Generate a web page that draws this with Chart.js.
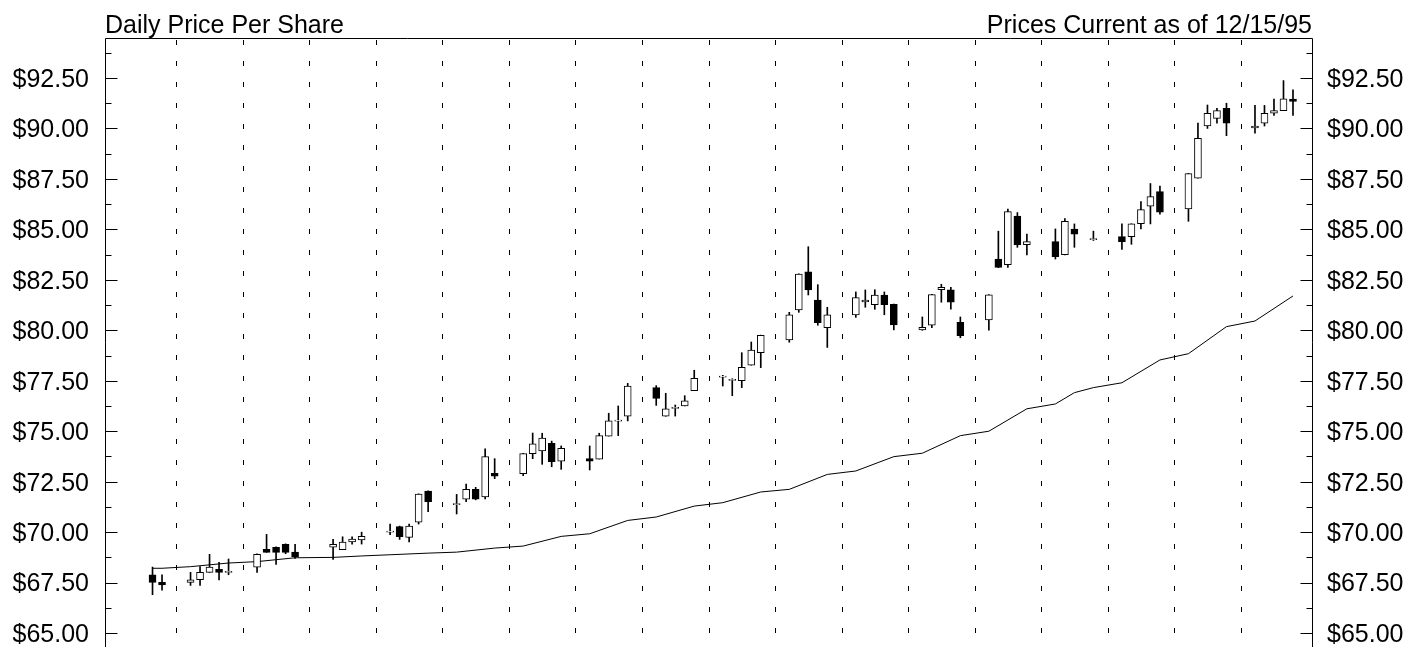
<!DOCTYPE html>
<html lang="en">
<head>
<meta charset="UTF-8">
<title>Daily Price Per Share</title>
<script src="https://cdn.jsdelivr.net/npm/chart.js@4.4.3/dist/chart.umd.min.js"></script>
<style>
  html, body { margin: 0; padding: 0; background: #fff; overflow: hidden; }
  canvas { display: block; }
</style>
</head>
<body>
<canvas id="chart" width="1413" height="647"></canvas>
<script>
// day 0 of the x axis is Saturday 8/12/95, the axis runs to Sunday 12/17/95
const startDate = '1995-08-12';
const lastDay = 127;

const tradeDates = [
  '1995-08-17','1995-08-18',
  '1995-08-21','1995-08-22','1995-08-23','1995-08-24','1995-08-25',
  '1995-08-28','1995-08-29','1995-08-30','1995-08-31','1995-09-01',
  '1995-09-05','1995-09-06','1995-09-07','1995-09-08',
  '1995-09-11','1995-09-12','1995-09-13','1995-09-14','1995-09-15',
  '1995-09-18','1995-09-19','1995-09-20','1995-09-21','1995-09-22',
  '1995-09-25','1995-09-26','1995-09-27','1995-09-28','1995-09-29',
  '1995-10-02','1995-10-03','1995-10-04','1995-10-05','1995-10-06',
  '1995-10-09','1995-10-10','1995-10-11','1995-10-12','1995-10-13',
  '1995-10-16','1995-10-17','1995-10-18','1995-10-19','1995-10-20',
  '1995-10-23','1995-10-24','1995-10-25','1995-10-26','1995-10-27',
  '1995-10-30','1995-10-31','1995-11-01','1995-11-02','1995-11-03',
  '1995-11-06','1995-11-07','1995-11-08','1995-11-09','1995-11-10',
  '1995-11-13','1995-11-14','1995-11-15','1995-11-16','1995-11-17',
  '1995-11-20','1995-11-21','1995-11-22','1995-11-24',
  '1995-11-27','1995-11-28','1995-11-29','1995-11-30','1995-12-01',
  '1995-12-04','1995-12-05','1995-12-06','1995-12-07','1995-12-08',
  '1995-12-11','1995-12-12','1995-12-13','1995-12-14','1995-12-15'
];

const opens = [
  67.89, 67.51,
  67.51, 67.64, 68.01, 68.16, 68.01,
  68.27, 69.15, 69.25, 69.40, 69.01,
  69.25, 69.13, 69.51, 69.62,
  70.00, 70.27, 69.74, 70.50, 72.04,
  71.36, 71.63, 72.12, 71.75, 72.91,
  72.90, 73.89, 74.02, 74.40, 73.52,
  73.64, 73.62, 74.76, 75.50, 75.75,
  77.16, 75.74, 76.13, 76.25, 77.01,
  77.68, 77.52, 77.50, 78.27, 78.89,
  79.52, 81.01, 82.89, 81.50, 80.13,
  80.76, 81.40, 81.27, 81.75, 81.28,
  80.02, 80.25, 82.01, 82.01, 80.40,
  80.51, 83.53, 83.25, 85.66, 84.24,
  84.39, 83.74, 85.02, 84.49,
  84.64, 84.64, 85.28, 86.15, 86.87,
  86.01, 87.53, 90.12, 90.50, 91.00,
  90.02, 90.26, 90.75, 90.88, 91.46
];

const highs = [
  68.27, 67.89,
  68.01, 68.29, 68.90, 68.50, 68.67,
  68.92, 69.89, 69.27, 69.42, 69.40,
  69.64, 69.77, 69.77, 70.00,
  70.40, 70.30, 70.40, 71.90, 72.05,
  71.87, 72.38, 72.22, 74.13, 73.64,
  73.90, 74.91, 74.90, 74.51, 74.27,
  74.27, 74.90, 75.89, 76.25, 77.37,
  77.26, 76.88, 76.30, 76.76, 78.02,
  77.77, 77.60, 78.89, 79.42, 79.76,
  80.89, 82.80, 84.14, 82.26, 81.14,
  81.90, 82.00, 82.01, 81.90, 81.30,
  80.66, 81.78, 82.28, 82.13, 80.66,
  81.77, 84.91, 86.00, 85.83, 84.77,
  85.02, 85.53, 85.27, 84.91,
  85.27, 85.28, 86.38, 87.27, 87.14,
  87.77, 90.26, 91.16, 91.00, 91.25,
  91.14, 91.14, 91.46, 92.37, 91.91
];

const lows = [
  66.90, 67.12,
  67.36, 67.36, 68.01, 67.63, 67.89,
  68.01, 69.00, 68.40, 68.93, 68.70,
  68.65, 69.13, 69.41, 69.41,
  69.87, 69.64, 69.51, 70.40, 71.01,
  70.90, 71.51, 71.60, 71.64, 72.65,
  72.80, 73.64, 73.36, 73.24, 73.11,
  73.08, 73.62, 74.76, 74.78, 75.51,
  76.28, 75.74, 75.75, 76.25, 77.01,
  77.24, 76.76, 77.16, 78.27, 78.15,
  79.41, 80.89, 81.75, 80.25, 79.15,
  80.64, 81.14, 81.04, 80.77, 80.02,
  80.00, 80.13, 81.39, 81.04, 79.63,
  80.00, 83.10, 83.12, 84.11, 83.73,
  83.53, 83.73, 84.11, 84.45,
  84.01, 84.26, 85.02, 85.27, 85.75,
  85.40, 87.53, 90.00, 90.26, 89.64,
  89.76, 90.12, 90.64, 90.88, 90.64
];

const closes = [
  67.51, 67.38,
  67.64, 68.01, 68.27, 68.01, 68.06,
  68.90, 69.00, 69.00, 69.00, 68.78,
  69.40, 69.51, 69.66, 69.79,
  70.05, 69.77, 70.30, 71.89, 71.51,
  71.41, 72.12, 71.63, 73.74, 72.77,
  73.89, 74.38, 74.66, 73.49, 74.15,
  73.51, 74.78, 75.51, 75.55, 77.24,
  76.63, 76.11, 76.18, 76.51, 77.62,
  77.73, 77.57, 78.17, 79.02, 79.75,
  80.77, 82.79, 82.00, 80.38, 80.77,
  81.62, 81.50, 81.75, 81.27, 80.26,
  80.15, 81.77, 82.13, 81.39, 79.73,
  81.76, 83.12, 85.88, 84.24, 84.39,
  83.65, 85.40, 84.76, 84.54,
  84.39, 85.27, 85.98, 86.62, 85.85,
  87.76, 89.51, 90.75, 90.88, 90.26,
  90.12, 90.75, 90.88, 91.47, 91.34
];

// moving average, read at the corners of the line
const avgDates = [
  '1995-08-17','1995-08-18','1995-08-21','1995-08-25','1995-08-28','1995-09-01',
  '1995-09-05','1995-09-08','1995-09-11','1995-09-15','1995-09-18','1995-09-22',
  '1995-09-25','1995-09-29','1995-10-02','1995-10-06','1995-10-09','1995-10-13',
  '1995-10-16','1995-10-20','1995-10-23','1995-10-27','1995-10-30','1995-11-03',
  '1995-11-06','1995-11-10','1995-11-13','1995-11-17','1995-11-20','1995-11-22',
  '1995-11-24','1995-11-27','1995-12-01','1995-12-04','1995-12-08','1995-12-11',
  '1995-12-15'
];
const avgValues = [
  68.21, 68.21, 68.29, 68.47, 68.54, 68.73,
  68.75, 68.82, 68.88, 68.96, 69.01, 69.21,
  69.31, 69.79, 69.92, 70.58, 70.75, 71.29,
  71.46, 71.99, 72.12, 72.86, 73.03, 73.74,
  73.91, 74.78, 75.00, 76.11, 76.35, 76.91,
  77.16, 77.40, 78.53, 78.84, 80.18, 80.46,
  81.70
];

const priceTicks = [65, 67.5, 70, 72.5, 75, 77.5, 80, 82.5, 85, 87.5, 90, 92.5];
const minorTicks = [66.25, 68.75, 71.25, 73.75, 76.25, 78.75, 81.25, 83.75, 86.25, 88.75, 91.25, 93.75];
const yMin = 64.31;
const yMax = 94.48;

const titleLeft = 'Daily Price Per Share';
const titleRight = 'Prices Current as of 12/15/95';

const fontFamily = '"Liberation Sans", Arial, Helvetica, sans-serif';

const dayNo = s => (Date.parse(s) - Date.parse(startDate)) / 86400000;

// dashed lines between Saturday and Sunday
const weekLines = [];
for (let w = 1; w <= 17; w++) weekLines.push(7 * w + 0.5);

const frameAndTicks = {
  id: 'frameAndTicks',
  beforeDatasetsDraw(chart) {
    const { ctx, chartArea: a, scales: { x } } = chart;
    ctx.save();
    ctx.strokeStyle = '#000';
    ctx.lineWidth = 1;
    ctx.setLineDash([5, 16]);
    ctx.lineDashOffset = 19;
    weekLines.forEach(d => {
      const px = Math.round(x.getPixelForValue(d)) + 0.5;
      ctx.beginPath();
      ctx.moveTo(px, a.top);
      ctx.lineTo(px, a.bottom);
      ctx.stroke();
    });
    ctx.restore();
  },
  afterDraw(chart) {
    const { ctx, chartArea: a, scales: { y } } = chart;
    const l = a.left + 0.5, r = a.right + 0.5, t = a.top + 0.5;
    ctx.save();
    ctx.strokeStyle = '#000';
    ctx.lineWidth = 1;
    ctx.beginPath();
    ctx.moveTo(l, a.bottom);
    ctx.lineTo(l, t);
    ctx.lineTo(r, t);
    ctx.lineTo(r, a.bottom);
    ctx.stroke();

    const mark = (v, len) => {
      const py = Math.round(y.getPixelForValue(v)) + 0.5;
      ctx.beginPath();
      ctx.moveTo(l, py);
      ctx.lineTo(l + len, py);
      ctx.moveTo(r - len, py);
      ctx.lineTo(r, py);
      ctx.stroke();
    };
    priceTicks.forEach(v => mark(v, 12));
    minorTicks.forEach(v => mark(v, 6));

    ctx.fillStyle = '#000';
    ctx.font = '25px ' + fontFamily;
    ctx.textBaseline = 'alphabetic';
    ctx.textAlign = 'left';
    ctx.fillText(titleLeft, a.left, 33);
    ctx.textAlign = 'right';
    ctx.fillText(titleRight, a.right, 33);
    ctx.restore();
  }
};

const priceAxis = (position, width, padding) => ({
  position: position,
  min: yMin,
  max: yMax,
  afterBuildTicks: s => { s.ticks = priceTicks.map(v => ({ value: v })); },
  afterFit: s => { s.width = width; s.paddingTop = 0; s.paddingBottom = 0; },
  grid: { display: false, drawTicks: false },
  border: { display: false },
  ticks: {
    padding: padding,
    labelOffset: 2,
    color: '#000',
    font: { family: fontFamily, size: 25 },
    callback: v => '$' + v.toFixed(2)
  }
});

new Chart(document.getElementById('chart'), {
  type: 'bar',
  data: {
    datasets: [
      {
        label: 'Open / Close',
        data: tradeDates.map((d, i) => ({ x: dayNo(d), y: [opens[i], closes[i]] })),
        backgroundColor: c => closes[c.dataIndex] >= opens[c.dataIndex] ? '#ffffff' : '#000000',
        borderColor: '#000',
        borderWidth: 1,
        borderSkipped: false,
        barThickness: 7,
        grouped: false,
        order: 0
      },
      {
        label: 'High / Low',
        data: tradeDates.map((d, i) => ({ x: dayNo(d), y: [lows[i], highs[i]] })),
        backgroundColor: '#000',
        borderWidth: 0,
        barThickness: 1,
        grouped: false,
        order: 1
      },
      {
        type: 'line',
        label: 'Moving average',
        data: avgDates.map((d, i) => ({ x: dayNo(d), y: avgValues[i] })),
        borderColor: '#000',
        borderWidth: 1,
        pointRadius: 0,
        fill: false,
        tension: 0,
        order: 2
      }
    ]
  },
  options: {
    responsive: false,
    animation: false,
    devicePixelRatio: 1,
    events: [],
    layout: { padding: { top: 38, bottom: 0, left: 0, right: 0 } },
    scales: {
      x: { type: 'linear', min: 0, max: lastDay, offset: false, display: false },
      y: priceAxis('left', 105, 16),
      y2: priceAxis('right', 101, 15)
    },
    plugins: {
      legend: { display: false },
      tooltip: { enabled: false },
      title: { display: false }
    }
  },
  plugins: [frameAndTicks]
});
</script>
</body>
</html>
